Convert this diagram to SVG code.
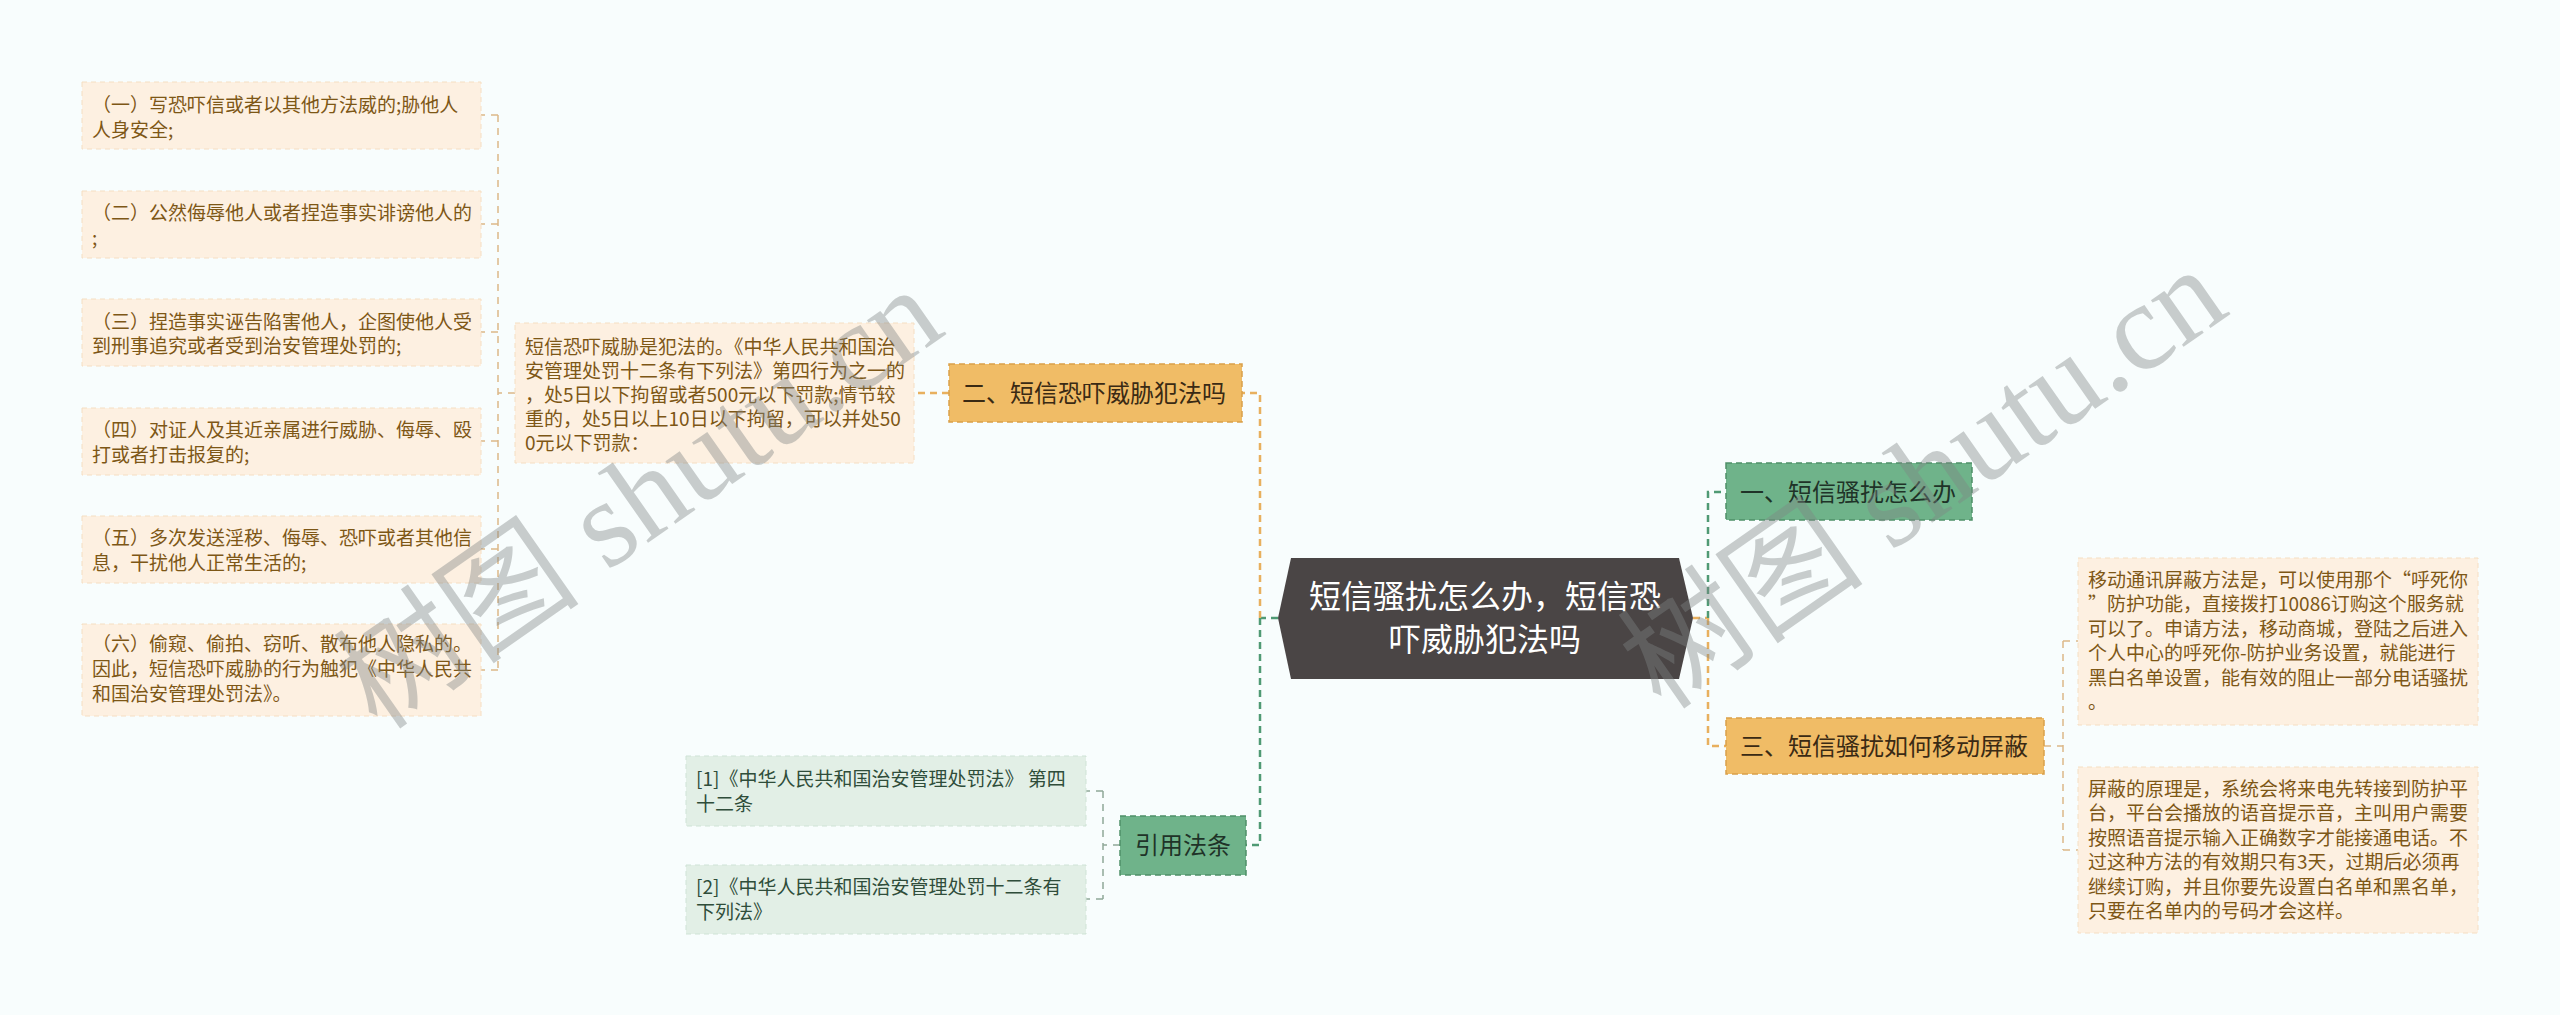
<svg xmlns="http://www.w3.org/2000/svg" width="2560" height="1015" viewBox="0 0 2560 1015">
<style>
text{font-family:"Noto Sans CJK SC","Noto Sans",sans-serif}
.pbox{fill:#fdf0e1;stroke:#f5dec2;stroke-width:1;stroke-dasharray:5 4}
.gbox{fill:#e2efe6;stroke:#cfe3d6;stroke-width:1;stroke-dasharray:5 4}
.pt{font-size:19px;fill:#7d5716}
.gt{font-size:19px;fill:#2f4d3a}
.onode{fill:#f0bc66;stroke:#d9a04a;stroke-width:1.5;stroke-dasharray:6 4}
.gnode{fill:#6fb38a;stroke:#4f9068;stroke-width:1.5;stroke-dasharray:6 4}
.ot{font-size:24px;fill:#3a2a14}
.gnt{font-size:24px;fill:#1f3328}
.root{fill:#4a4545}
.rt{font-size:32px;fill:#ffffff;text-anchor:middle}
.co{fill:none;stroke:#e8b05e;stroke-width:2.5;stroke-dasharray:7 5}
.cg{fill:none;stroke:#4f9a74;stroke-width:2.5;stroke-dasharray:7 5}
.cl{fill:none;stroke:#dcb888;stroke-width:1.5;stroke-dasharray:7 6}
.cc{fill:none;stroke:#8fa898;stroke-width:1.5;stroke-dasharray:7 6}
.wm{font-family:"Liberation Serif","Noto Sans CJK SC",serif;font-size:124px;fill:#7f8585;opacity:0.4}
</style>
<rect width="2560" height="1015" fill="#f8fdfd"/>
<g id="connectors">
<path class="cg" d="M1278 618H1260"/>
<path class="co" d="M1260 618V393H1242"/>
<path class="cg" d="M1260 618V845H1246"/>
<path class="co" d="M1693 618H1708"/>
<path class="cg" d="M1708 618V492H1726"/>
<path class="co" d="M1708 618V746H1726"/>
<path class="co" d="M949 393H914"/>
<path class="cl" d="M515 393H498M498 115V670M498 115H481M498 224H481M498 332H481M498 441H481M498 549H481M498 670H481"/>
<path class="cl" d="M2044 746H2063M2063 641V850M2063 641H2078M2063 850H2078"/>
<path class="cc" d="M1120 845H1103M1103 791V899M1103 791H1086M1103 899H1086"/>
</g>
<g id="root">
<polygon class="root" points="1291,558 1679,558 1693,618 1679,679 1291,679 1278,618"/>
<text class="rt" x="1485" y="608">短信骚扰怎么办，短信恐</text>
<text class="rt" x="1485" y="651">吓威胁犯法吗</text>
</g>
<g id="node-er">
<rect class="onode" x="949" y="364" width="293" height="58"/>
<text class="ot" x="962" y="402">二、短信恐吓威胁犯法吗</text>
</g>
<g id="node-yi">
<rect class="gnode" x="1726" y="463" width="246" height="57"/>
<text class="gnt" x="1740" y="501">一、短信骚扰怎么办</text>
</g>
<g id="node-san">
<rect class="onode" x="1726" y="718" width="318" height="56"/>
<text class="ot" x="1740" y="755">三、短信骚扰如何移动屏蔽</text>
</g>
<g id="node-yinyong">
<rect class="gnode" x="1120" y="816" width="126" height="59"/>
<text class="gnt" x="1135" y="854">引用法条</text>
</g>
<g id="mid-text">
<rect class="pbox" x="515" y="323" width="399" height="140"/>
<text class="pt"><tspan x="525" y="354">短信恐吓威胁是犯法的。《中华人民共和国治</tspan><tspan x="525" y="378">安管理处罚十二条有下列法》第四行为之一的</tspan><tspan x="525" y="402">，处5日以下拘留或者500元以下罚款;情节较</tspan><tspan x="525" y="426">重的，处5日以上10日以下拘留，可以并处50</tspan><tspan x="525" y="450">0元以下罚款：</tspan></text>
</g>
<g id="leaf-1">
<rect class="pbox" x="82" y="82" width="399" height="67"/>
<text class="pt"><tspan x="92" y="112">（一）写恐吓信或者以其他方法威的;胁他人</tspan><tspan x="92" y="137">人身安全;</tspan></text>
</g>
<g id="leaf-2">
<rect class="pbox" x="82" y="191" width="399" height="67"/>
<text class="pt"><tspan x="92" y="220">（二）公然侮辱他人或者捏造事实诽谤他人的</tspan><tspan x="92" y="245">;</tspan></text>
</g>
<g id="leaf-3">
<rect class="pbox" x="82" y="299" width="399" height="67"/>
<text class="pt"><tspan x="92" y="329">（三）捏造事实诬告陷害他人，企图使他人受</tspan><tspan x="92" y="353">到刑事追究或者受到治安管理处罚的;</tspan></text>
</g>
<g id="leaf-4">
<rect class="pbox" x="82" y="408" width="399" height="67"/>
<text class="pt"><tspan x="92" y="437">（四）对证人及其近亲属进行威胁、侮辱、殴</tspan><tspan x="92" y="462">打或者打击报复的;</tspan></text>
</g>
<g id="leaf-5">
<rect class="pbox" x="82" y="516" width="399" height="67"/>
<text class="pt"><tspan x="92" y="545">（五）多次发送淫秽、侮辱、恐吓或者其他信</tspan><tspan x="92" y="570">息，干扰他人正常生活的;</tspan></text>
</g>
<g id="leaf-6">
<rect class="pbox" x="82" y="624" width="399" height="92"/>
<text class="pt"><tspan x="92" y="651">（六）偷窥、偷拍、窃听、散布他人隐私的。</tspan><tspan x="92" y="676">因此，短信恐吓威胁的行为触犯《中华人民共</tspan><tspan x="92" y="701">和国治安管理处罚法》。</tspan></text>
</g>
<g id="cite-1">
<rect class="gbox" x="686" y="756" width="400" height="70"/>
<text class="gt"><tspan x="696" y="786">[1]《中华人民共和国治安管理处罚法》 第四</tspan><tspan x="696" y="811">十二条</tspan></text>
</g>
<g id="cite-2">
<rect class="gbox" x="686" y="865" width="400" height="69"/>
<text class="gt"><tspan x="696" y="894">[2]《中华人民共和国治安管理处罚十二条有</tspan><tspan x="696" y="919">下列法》</tspan></text>
</g>
<g id="right-leaf-1">
<rect class="pbox" x="2078" y="558" width="400" height="167"/>
<text class="pt"><tspan x="2088" y="587">移动通讯屏蔽方法是，可以使用那个“呼死你</tspan><tspan x="2088" y="611">”防护功能，直接拨打10086订购这个服务就</tspan><tspan x="2088" y="636">可以了。申请方法，移动商城，登陆之后进入</tspan><tspan x="2088" y="660">个人中心的呼死你-防护业务设置，就能进行</tspan><tspan x="2088" y="685">黑白名单设置，能有效的阻止一部分电话骚扰</tspan><tspan x="2088" y="709">。</tspan></text>
</g>
<g id="right-leaf-2">
<rect class="pbox" x="2078" y="767" width="400" height="166"/>
<text class="pt"><tspan x="2088" y="796">屏蔽的原理是，系统会将来电先转接到防护平</tspan><tspan x="2088" y="820">台，平台会播放的语音提示音，主叫用户需要</tspan><tspan x="2088" y="845">按照语音提示输入正确数字才能接通电话。不</tspan><tspan x="2088" y="869">过这种方法的有效期只有3天，过期后必须再</tspan><tspan x="2088" y="894">继续订购，并且你要先设置白名单和黑名单，</tspan><tspan x="2088" y="918">只要在名单内的号码才会这样。</tspan></text>
</g>
<g id="watermarks">
<text class="wm" transform="translate(378 732) rotate(-35)">树图 shutu.cn</text>
<text class="wm" transform="translate(1662 712) rotate(-35)">树图 shutu.cn</text>
</g>
</svg>
